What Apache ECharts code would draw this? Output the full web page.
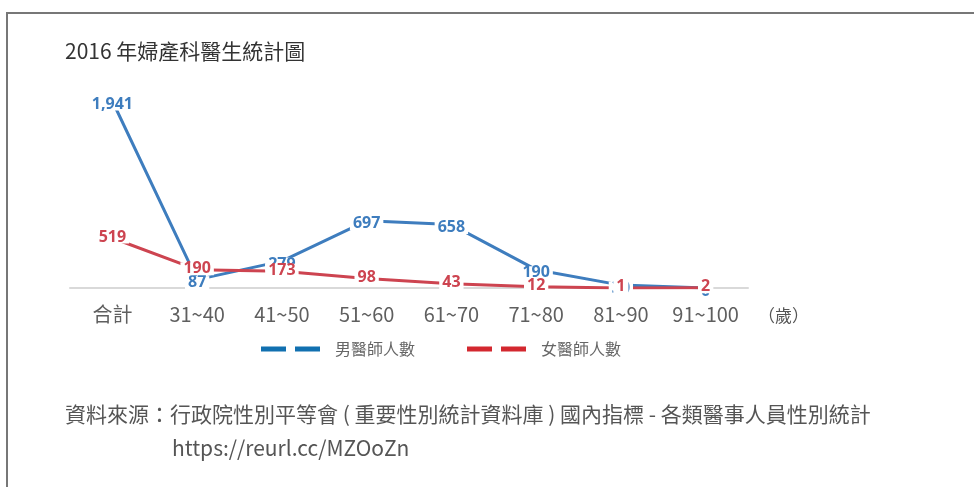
<!DOCTYPE html>
<html>
<head>
<meta charset="utf-8">
<script src="https://cdn.jsdelivr.net/npm/echarts@6/dist/echarts.min.js"></script>
<style>
  html, body { margin: 0; padding: 0; background: #fff; }
  #main { width: 974px; height: 487px; }
</style>
</head>
<body>
<div id="main"></div>
<script>
const categories = ['合計', '31~40', '41~50', '51~60', '61~70', '71~80', '81~90', '91~100'];
const maleDoctors = [1941, 87, 279, 697, 658, 190, 30, 0];
const femaleDoctors = [519, 190, 173, 98, 43, 12, 1, 2];
const seriesNames = ['男醫師人數', '女醫師人數'];

const cjk = '"Noto Sans CJK TC", "Noto Sans", sans-serif';
const numFont = '"Open Sans", "Noto Sans", sans-serif';

const chart = echarts.init(document.getElementById('main'));

// labels carry a white box so the lines break around them, like the original
function lineSeries(name, data, color, dy) {
  return {
    name: name,
    type: 'line',
    data: data,
    symbol: 'circle',
    symbolSize: 1,
    itemStyle: { color: color },
    lineStyle: { color: color, width: 3 },
    label: {
      show: true,
      position: 'inside',
      offset: [0, dy],
      color: color,
      fontFamily: numFont,
      fontWeight: 'bold',
      fontSize: 16,
      lineHeight: 12,
      backgroundColor: '#fff',
      padding: [1, 3, 0, 3],
      formatter: p => p.value.toLocaleString('en-US')
    },
    emphasis: { disabled: true },
    animation: false
  };
}

chart.setOption({
  animation: false,
  title: [
    {
      text: '2016 年婦產科醫生統計圖',
      left: 65, top: 41, padding: 0,
      textStyle: { fontFamily: cjk, fontSize: 21, fontWeight: 'normal', color: '#333' }
    },
    {
      text: '資料來源：行政院性別平等會 ( 重要性別統計資料庫 ) 國內指標 - 各類醫事人員性別統計',
      left: 65, top: 404, padding: 0,
      textStyle: { fontFamily: cjk, fontSize: 21, fontWeight: 'normal', color: '#555' }
    },
    {
      text: 'https://reurl.cc/MZOoZn',
      left: 172, top: 438, padding: 0,
      textStyle: { fontFamily: cjk, fontSize: 21, fontWeight: 'normal', color: '#555' }
    }
  ],
  graphic: [
    {
      type: 'rect',
      shape: { x: 7, y: 13, width: 1200, height: 1000 },
      style: { fill: 'none', stroke: '#777', lineWidth: 2 },
      silent: true
    }
  ],
  legend: {
    left: 261, top: 341, padding: 0,
    itemWidth: 59, itemHeight: 5,
    itemGap: 52,
    icon: 'path://M0,0H25V5H0Z M34,0H59V5H34Z',
    textStyle: { fontFamily: cjk, fontSize: 16, color: '#666', padding: [0, 0, 0, 10] },
    data: [
      { name: seriesNames[0], itemStyle: { color: '#1170b0', borderWidth: 0 } },
      { name: seriesNames[1], itemStyle: { color: '#d3282f', borderWidth: 0 } }
    ]
  },
  grid: { left: 70, right: 226, top: 95.3, bottom: 199, containLabel: false },
  xAxis: {
    type: 'category',
    data: categories,
    boundaryGap: true,
    axisLine: { lineStyle: { color: '#d9d9d9', width: 2 } },
    axisTick: { show: false },
    axisLabel: { interval: 0, fontFamily: cjk, fontSize: 20, color: '#5f5f5f', margin: 16 },
    name: '（歲）',
    nameLocation: 'end',
    nameGap: 10,
    nameTextStyle: { fontFamily: cjk, fontSize: 17, color: '#555', verticalAlign: 'top', padding: [19, 0, 0, 0] }
  },
  yAxis: {
    type: 'value',
    min: 0, max: 2000,
    show: false,
    splitLine: { show: false }
  },
  series: [
    lineSeries(seriesNames[0], maleDoctors, '#3e7dbe', 3),
    lineSeries(seriesNames[1], femaleDoctors, '#cd4450', -1)
  ]
});
</script>
</body>
</html>
